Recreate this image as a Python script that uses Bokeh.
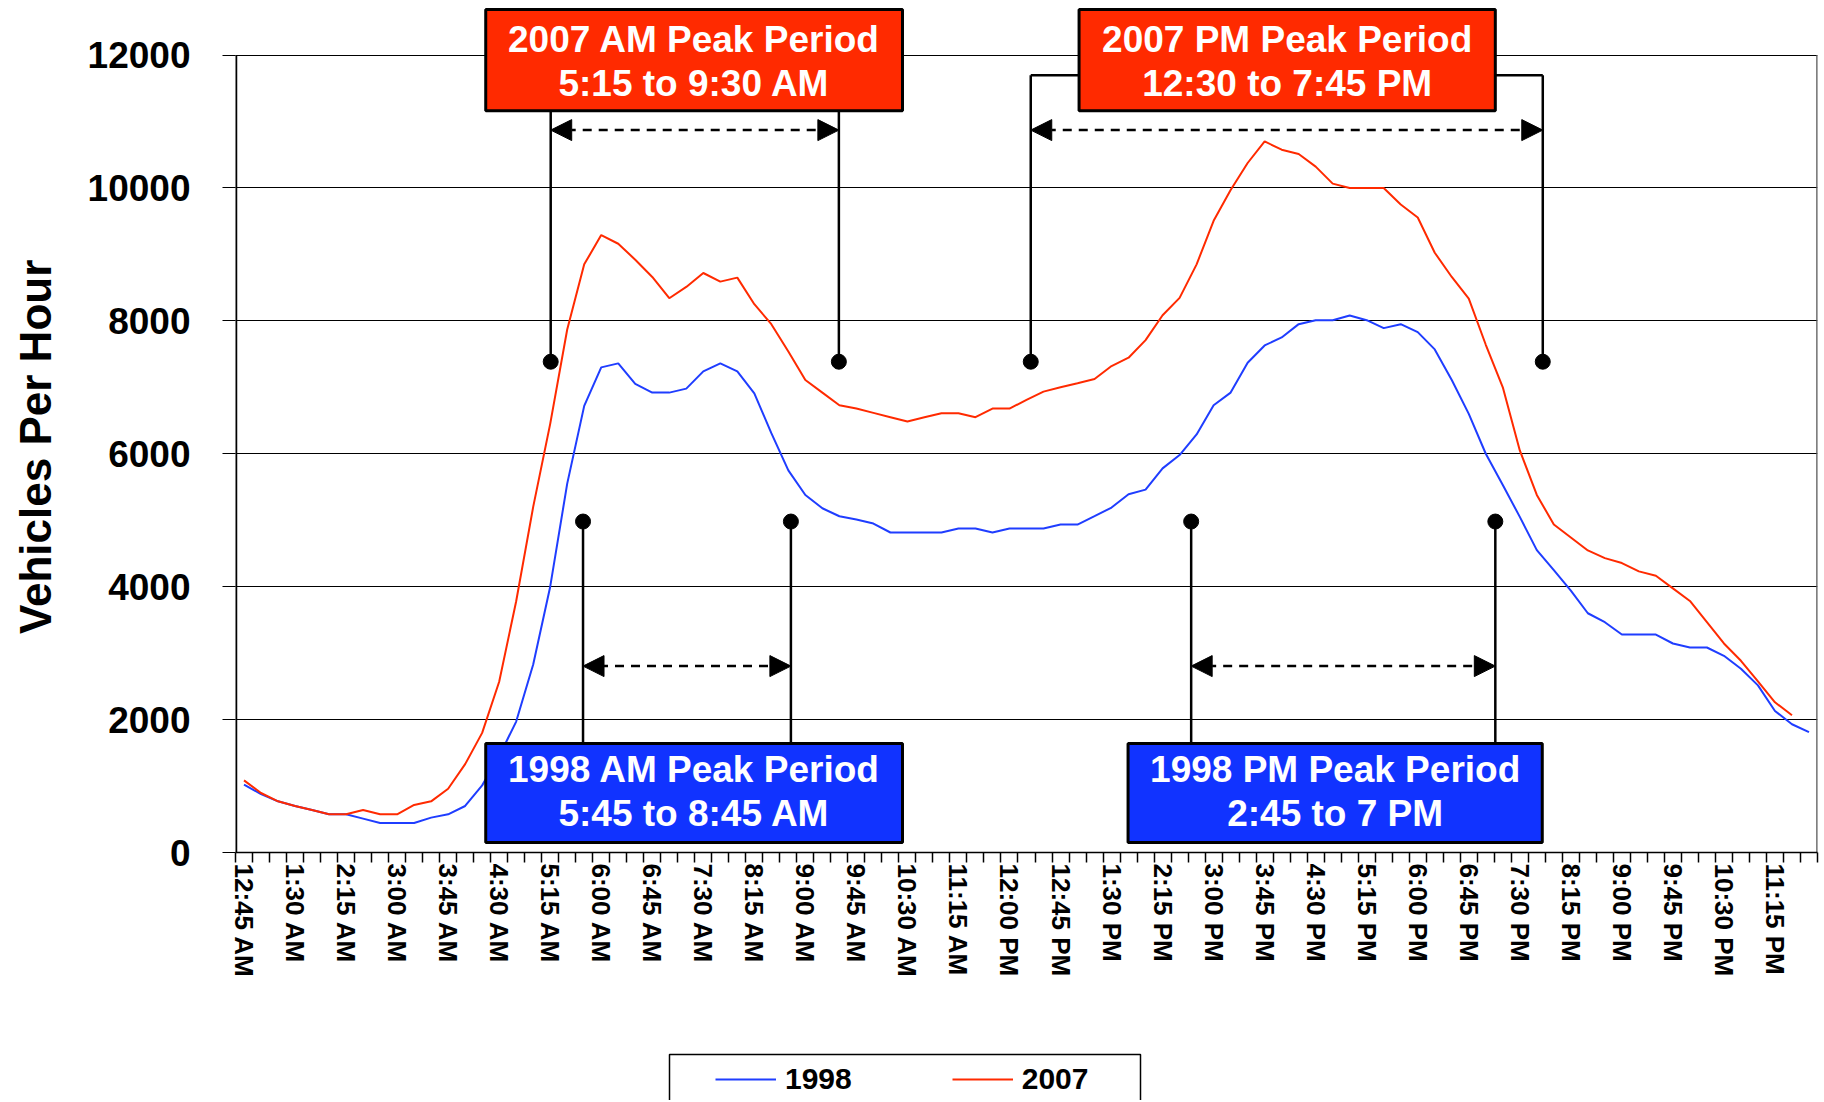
from bokeh.plotting import figure
from bokeh.layouts import column
from bokeh.models import (FixedTicker, Legend, LegendItem, Label, BoxAnnotation,
                          Arrow, NormalHead, Range1d)
from bokeh.embed import file_html
from bokeh.resources import INLINE

# ---------------- data ----------------
tick_labels = ["12:45 AM", "1:30 AM", "2:15 AM", "3:00 AM", "3:45 AM", "4:30 AM",
               "5:15 AM", "6:00 AM", "6:45 AM", "7:30 AM", "8:15 AM", "9:00 AM",
               "9:45 AM", "10:30 AM", "11:15 AM", "12:00 PM", "12:45 PM", "1:30 PM",
               "2:15 PM", "3:00 PM", "3:45 PM", "4:30 PM", "5:15 PM", "6:00 PM",
               "6:45 PM", "7:30 PM", "8:15 PM", "9:00 PM", "9:45 PM", "10:30 PM",
               "11:15 PM"]
n_slots = 93  # 15-minute slots, 12:45 AM .. 11:45 PM
y_ticks = [0, 2000, 4000, 6000, 8000, 10000, 12000]

vol_1998 = [1020, 880, 770, 700, 640, 575, 575, 510, 445, 445,
            445, 525, 575, 700, 1010, 1450, 1970, 2830, 4000, 5550,
            6720, 7300, 7360, 7050, 6920, 6920, 6980, 7240, 7360, 7240,
            6910, 6310, 5750, 5380, 5180, 5060, 5010, 4950, 4815, 4815,
            4815, 4815, 4875, 4875, 4815, 4875, 4875, 4875, 4935, 4935,
            5060, 5190, 5390, 5460, 5780, 5980, 6290, 6730, 6920, 7370,
            7630, 7750, 7950, 8010, 8010, 8080, 8010, 7890, 7950, 7830,
            7570, 7110, 6600, 6000, 5530, 5050, 4550, 4250, 3940, 3600,
            3465, 3280, 3280, 3280, 3145, 3085, 3085, 2960, 2765, 2515,
            2130, 1930, 1810]

vol_2007 = [1085, 895, 770, 700, 640, 575, 575, 640, 575, 575,
            715, 770, 960, 1330, 1800, 2570, 3780, 5200, 6450, 7870,
            8850, 9290, 9160, 8920, 8660, 8340, 8510, 8720, 8590, 8650,
            8250, 7950, 7540, 7110, 6920, 6730, 6680, 6615, 6550, 6485,
            6550, 6610, 6610, 6550, 6680, 6680, 6810, 6935, 7000, 7060,
            7125, 7320, 7445, 7710, 8085, 8345, 8850, 9505, 9970, 10375,
            10700, 10575, 10510, 10320, 10065, 10000, 10000, 10000, 9750, 9555,
            9025, 8660, 8335, 7640, 7000, 6050, 5380, 4935, 4740, 4545,
            4430, 4355, 4230, 4165, 3975, 3785, 3465, 3145, 2885, 2575,
            2260, 2065]

series_names = ["1998", "2007"]

# peak-period annotations (slot positions as placed on the chart)
peak_2007_am = [18.03, 34.97]
peak_2007_pm = [46.25, 76.35]
peak_1998_am = [19.93, 32.15]
peak_1998_pm = [55.68, 73.56]
box_texts = {
    "2007am": ["2007 AM Peak Period", "5:15 to 9:30 AM"],
    "2007pm": ["2007 PM Peak Period", "12:30 to 7:45 PM"],
    "1998am": ["1998 AM Peak Period", "5:45 to 8:45 AM"],
    "1998pm": ["1998 PM Peak Period", "2:45 to 7 PM"],
}

# ---------------- style ----------------
BLUE_LINE = "#1f3dff"
RED_LINE = "#ff2a00"
BLUE_BOX = "#1133ff"
RED_BOX = "#ff2a00"
FONT = "Liberation Sans"
W = 1820
FRAME_L, FRAME_R = 235, 1817

p = figure(width=W, height=1040, x_range=Range1d(-0.5, n_slots - 0.5),
           y_range=Range1d(0, 12760), output_backend="svg", toolbar_location=None,
           min_border_left=FRAME_L, min_border_right=W - FRAME_R, min_border_top=4,
           min_border_bottom=188)
p.background_fill_color = "white"
p.border_fill_color = "white"
p.outline_line_color = None

# plot-area edges (left axis line and right border, up to 12000 only)
p.segment([-0.5, n_slots - 0.5], [0, 0], [-0.5, n_slots - 0.5], [12000, 12000],
          line_color=["black", "#555555"], line_width=[3.5, 2.5])

xs98 = list(range(len(vol_1998)))
xs07 = list(range(len(vol_2007)))
p.line(xs98, vol_1998, line_color=BLUE_LINE, line_width=2)
p.line(xs07, vol_2007, line_color=RED_LINE, line_width=2)

# connectors
y_dot07, y_dot98 = 7385, 4980
y_conn_pm = 11694
x0 = [peak_2007_am[0], peak_2007_am[1], peak_2007_pm[0], peak_2007_pm[0],
      peak_2007_pm[1], peak_2007_pm[1],
      peak_1998_am[0], peak_1998_am[1], peak_1998_pm[0], peak_1998_pm[1]]
y0 = [y_dot07, y_dot07, y_dot07, y_conn_pm, y_dot07, y_conn_pm,
      y_dot98, y_dot98, y_dot98, y_dot98]
x1 = [peak_2007_am[0], peak_2007_am[1], peak_2007_pm[0], 49.5,
      peak_2007_pm[1], 73.2,
      peak_1998_am[0], peak_1998_am[1], peak_1998_pm[0], peak_1998_pm[1]]
y1 = [11400, 11400, y_conn_pm, y_conn_pm, y_conn_pm, y_conn_pm,
      1500, 1500, 1500, 1500]
p.segment(x0, y0, x1, y1, line_color="black", line_width=2.5)

dots_x = peak_2007_am + peak_2007_pm + peak_1998_am + peak_1998_pm
dots_y = [y_dot07] * 4 + [y_dot98] * 4
p.scatter(dots_x, dots_y, size=15, color="black")

def add_arrow(xa, xb, y):
    p.add_layout(Arrow(x_start=xa, y_start=y, x_end=xb, y_end=y,
                       start=NormalHead(size=21, fill_color="black", line_color="black"),
                       end=NormalHead(size=21, fill_color="black", line_color="black"),
                       line_color="black", line_width=2.5, line_dash="9 7"))

add_arrow(peak_2007_am[0], peak_2007_am[1], 10870)
add_arrow(peak_2007_pm[0], peak_2007_pm[1], 10870)
add_arrow(peak_1998_am[0], peak_1998_am[1], 2805)
add_arrow(peak_1998_pm[0], peak_1998_pm[1], 2805)

def add_box(left, right, top, bottom, fill, lines, y_l1, y_l2):
    p.add_layout(BoxAnnotation(left=left, right=right, top=top, bottom=bottom,
                               fill_color=fill, fill_alpha=1.0, line_color="black",
                               line_alpha=1.0, line_width=3))
    cx = (left + right) / 2
    for txt, yy in zip(lines, (y_l1, y_l2)):
        p.add_layout(Label(x=cx, y=yy, text=txt, text_align="center",
                           text_baseline="middle", text_color="white",
                           text_font=FONT, text_font_style="bold",
                           text_font_size="37px"))

add_box(14.21, 38.71, 12684, 11160, RED_BOX, box_texts["2007am"], 12237, 11572)
add_box(49.09, 73.56, 12684, 11160, RED_BOX, box_texts["2007pm"], 12237, 11572)
add_box(14.21, 38.71, 1640, 150, BLUE_BOX, box_texts["1998am"], 1248, 587)
add_box(51.97, 76.32, 1640, 150, BLUE_BOX, box_texts["1998pm"], 1248, 587)

# ---------------- axes ----------------
xax = p.xaxis[0]
tick_index = list(range(0, n_slots, 3))
xax.ticker = FixedTicker(ticks=tick_index, minor_ticks=[i - 0.5 for i in range(n_slots + 1)])
xax.major_label_overrides = {t: lab for t, lab in zip(tick_index, tick_labels)}
xax.major_label_orientation = "vertical"
xax.major_tick_line_color = None
xax.major_tick_out = 0
xax.major_tick_in = 0
xax.minor_tick_out = 10
xax.minor_tick_in = 0
xax.minor_tick_line_color = "black"
xax.minor_tick_line_width = 1.5
xax.major_label_standoff = 1
xax.major_label_text_font = FONT
xax.major_label_text_font_style = "bold"
xax.major_label_text_font_size = "26px"
xax.major_label_text_color = "black"
xax.axis_line_color = "black"
xax.axis_line_width = 1.5

yax = p.yaxis[0]
yax.ticker = FixedTicker(ticks=y_ticks)
yax.major_tick_out = 13
yax.major_tick_in = 0
yax.major_tick_line_color = "black"
yax.major_tick_line_width = 1.2
yax.minor_tick_line_color = None
yax.axis_line_color = None
yax.major_label_standoff = 32
yax.major_label_text_font = FONT
yax.major_label_text_font_style = "bold"
yax.major_label_text_font_size = "37px"
yax.major_label_text_color = "black"
yax.axis_label = "Vehicles Per Hour\u00a0\u00a0\u00a0"
yax.axis_label_text_font = FONT
yax.axis_label_text_font_style = "bold"
yax.axis_label_text_font_size = "44px"
yax.axis_label_text_color = "black"
yax.axis_label_standoff = 25

p.xgrid.grid_line_color = None
p.ygrid.ticker = FixedTicker(ticks=y_ticks)
p.ygrid.grid_line_color = "black"
p.ygrid.grid_line_width = 1.2

# ---------------- legend strip (below the chart) ----------------
LH = 60
pl = figure(width=W, height=LH, x_range=Range1d(FRAME_L, FRAME_R), y_range=Range1d(0, LH),
            output_backend="svg", toolbar_location=None,
            x_axis_location=None, y_axis_location=None,
            min_border_left=FRAME_L, min_border_right=W - FRAME_R, min_border_top=0,
            min_border_bottom=0)
pl.grid.visible = False
pl.outline_line_color = None
pl.background_fill_color = "white"
pl.border_fill_color = "white"
# legend frame
pl.quad(left=[669], right=[1140], top=[46], bottom=[-6], fill_color="white",
        line_color="black", line_width=1.5)
# legend sample renderers (kept outside the visible strip)
lr98 = pl.line([0, 1], [-50, -50], line_color=BLUE_LINE, line_width=2)
lr07 = pl.line([0, 1], [-50, -50], line_color=RED_LINE, line_width=2)
legend = Legend(items=[LegendItem(label=series_names[0], renderers=[lr98]),
                       LegendItem(label=series_names[1], renderers=[lr07])],
                orientation="horizontal", location=(707 - FRAME_L, -4),
                glyph_width=61, glyph_height=20, label_standoff=9, spacing=100,
                padding=8, margin=0, border_line_alpha=0,
                background_fill_alpha=0,
                label_text_font=FONT, label_text_font_style="bold",
                label_text_font_size="30px", label_text_color="black")
pl.add_layout(legend, "center")

layout = column(p, pl, spacing=0)
open("out.html", "w").write(file_html(layout, INLINE))
